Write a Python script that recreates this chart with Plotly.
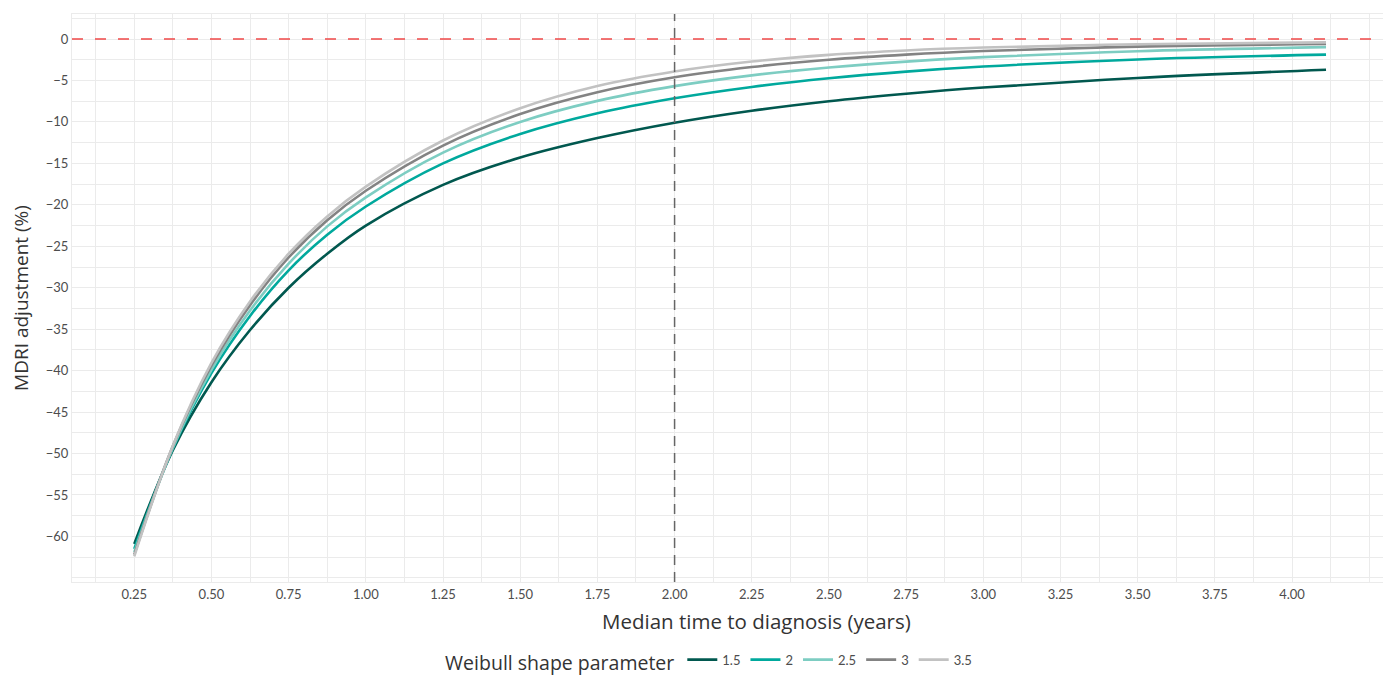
import plotly.graph_objects as go

# ---- data ----
median_time = [0.25, 0.375, 0.5, 0.625, 0.75, 0.875, 1.0, 1.25, 1.5, 1.75,
               2.0, 2.25, 2.5, 2.75, 3.0, 3.5, 4.11]

shape_labels = ["1.5", "2", "2.5", "3", "3.5"]

adj_k15 = [-60.9, -49.6, -41.4, -35.1, -30.0, -25.9, -22.5, -17.6, -14.3, -11.95,
           -10.1, -8.65, -7.5, -6.6, -5.85, -4.7, -3.7]
adj_k20 = [-61.5, -49.4, -40.3, -33.4, -27.9, -23.6, -20.2, -15.0, -11.45, -8.95,
           -7.15, -5.78, -4.73, -3.93, -3.32, -2.46, -1.88]
adj_k25 = [-61.9, -49.3, -39.9, -32.75, -27.1, -22.6, -19.1, -13.7, -10.0, -7.46,
           -5.68, -4.38, -3.43, -2.72, -2.18, -1.47, -0.98]
adj_k30 = [-62.2, -49.1, -39.4, -32.1, -26.35, -21.86, -18.3, -12.85, -9.05, -6.42,
           -4.62, -3.38, -2.49, -1.88, -1.45, -0.92, -0.6]
adj_k35 = [-62.4, -49.05, -39.06, -31.65, -25.9, -21.4, -17.8, -12.24, -8.35, -5.67,
           -3.92, -2.72, -1.91, -1.38, -1.03, -0.63, -0.4]

series = [adj_k15, adj_k20, adj_k25, adj_k30, adj_k35]
colors = ["#01584f", "#00a99d", "#7dcdc2", "#838383", "#c2c2c2"]

ref_y = 0
ref_x = 2.0

x_tickvals = [0.25 * i for i in range(1, 18)]
x_ticktext = [f"{v:.2f}" if v <= 4.0 else "" for v in x_tickvals]
y_tickvals = list(range(-65, 1, 5))
y_ticktext = [("" if v == -65 else (str(v).replace("-", "\u2212"))) for v in y_tickvals]

FONT = "Lato"
TFONT = "Open Sans"
grid = "#ebebeb"

fig = go.Figure()
for lab, vals, col in zip(shape_labels, series, colors):
    fig.add_trace(go.Scatter(x=median_time, y=vals, mode="lines", name=lab,
                             line=dict(color=col, width=2.6, shape="spline", smoothing=1.0)))

fig.add_hline(y=ref_y, line=dict(color="#f04848", width=1.5, dash="11px,12px"))
fig.add_vline(x=ref_x, line=dict(color="#666666", width=1.5, dash="10px,7px"))

# x-axis title as an annotation (placed like the reference)
fig.add_annotation(text="Median time to diagnosis (years)", xref="paper", yref="paper",
                   x=0.521, y=-0.069, xanchor="center", yanchor="middle", showarrow=False,
                   font=dict(family=TFONT, size=20.5, color="#333333"))

# page has an 8px body margin; size/margins compensate for it
fig.update_layout(
    width=1383, height=667,
    margin=dict(l=64, r=6, t=6, b=93, autoexpand=False),
    plot_bgcolor="white", paper_bgcolor="white",
    font=dict(family=FONT, color="#4d4d4d", size=13),
    showlegend=True,
    legend=dict(orientation="h", x=0.486, xanchor="center", y=-0.142, yanchor="middle",
                title=dict(text="Weibull shape parameter", font=dict(family=TFONT, size=19.5, color="#333333"), side="left"),
                font=dict(size=13, color="#4d4d4d"), itemwidth=30, tracegroupgap=0),
)
fig.update_xaxes(
    range=[0.0483, 4.301], tickvals=x_tickvals, ticktext=x_ticktext, automargin=False,
    showgrid=True, gridcolor=grid, gridwidth=1.2, zeroline=False,
    minor=dict(tickvals=[0.125 + 0.25 * i for i in range(0, 17)], showgrid=True, gridcolor=grid, gridwidth=0.7),
    showline=True, mirror=True, linecolor=grid, linewidth=1,
    ticks="", ticklen=0, tickfont=dict(size=13, color="#4d4d4d"),
)
fig.update_yaxes(
    range=[-65.5, 3.02], tickvals=y_tickvals, ticktext=y_ticktext, automargin=False,
    showgrid=True, gridcolor=grid, gridwidth=1.2, zeroline=False,
    minor=dict(tickvals=[-62.5 + 5 * i for i in range(0, 14)], showgrid=True, gridcolor=grid, gridwidth=0.7),
    showline=True, mirror=True, linecolor=grid, linewidth=1,
    ticks="", ticklen=0, tickfont=dict(size=13, color="#4d4d4d"),
    title=dict(text="MDRI adjustment (%)", font=dict(family=TFONT, size=19, color="#333333"), standoff=12),
)

fig.write_html("out.html")
